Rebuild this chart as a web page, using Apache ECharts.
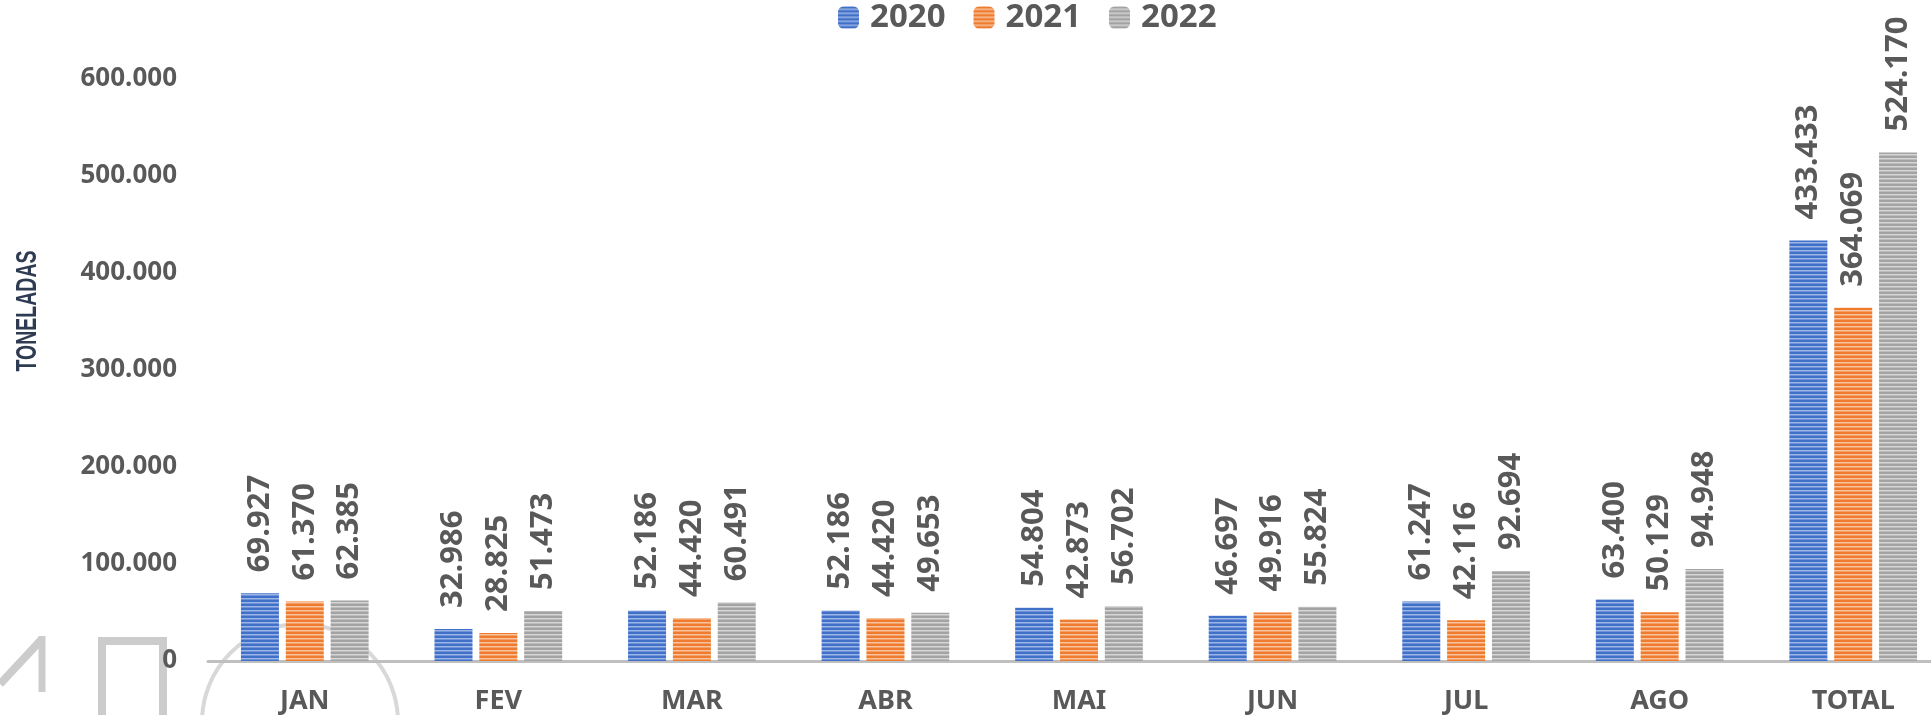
<!DOCTYPE html>
<html><head><meta charset="utf-8">
<script src="https://cdn.jsdelivr.net/npm/echarts@6/dist/echarts.min.js"></script>
<style>html,body{margin:0;padding:0;background:#fff}#c{width:1931px;height:715px}</style>
</head><body><div id="c"></div>
<script>
const categories = ['JAN','FEV','MAR','ABR','MAI','JUN','JUL','AGO','TOTAL'];
const s2020 = [69927, 32986, 52186, 52186, 54804, 46697, 61247, 63400, 433433];
const s2021 = [61370, 28825, 44420, 44420, 42873, 49916, 42116, 50129, 364069];
const s2022 = [62385, 51473, 60491, 49653, 56702, 55824, 92694, 94948, 524170];
const seriesNames = ['2020','2021','2022'];
const yTicks = [0,100000,200000,300000,400000,500000,600000];

function stripe(dark, light){
  const c = document.createElement('canvas'); c.width = 4; c.height = 4;
  const g = c.getContext('2d');
  g.fillStyle = dark; g.fillRect(0,0,4,4);
  g.fillStyle = light; g.fillRect(0,2,4,1.5);
  return {image: c, repeat: 'repeat'};
}
const fills = [stripe('#4170C8','#9DB5E6'), stripe('#EE7B2E','#F8C39E'), stripe('#A3A3A3','#D6D6D6')];
const fmt = v => String(v).replace(/\B(?=(\d{3})+(?!\d))/g, '.');
const FONT = '"Noto Sans", "Open Sans", sans-serif';

const chart = echarts.init(document.getElementById('c'), null, {renderer:'canvas'});
const mk = (name, data, i) => ({
  name, type:'bar', data, barWidth:38, barGap:'18%',
  itemStyle:{color: fills[i]},
  label:{show:true, position:'top', rotate:90, align:'left', verticalAlign:'middle', distance:21,
    formatter: p => fmt(p.value), color:'#595959', fontFamily:FONT, fontWeight:'bold', fontSize:31}
});
chart.setOption({
  animation:false,
  legend:{left:833, top:-4, itemWidth:21, itemHeight:22, itemGap:28,
    textStyle:{fontFamily:FONT, fontWeight:'bold', fontSize:33, color:'#595959', padding:[0,0,0,6]},
    data: seriesNames},
  grid:{left:208, width:1742, top:79, bottom:54, containLabel:false, outerBoundsMode:'none'},
  xAxis:{type:'category', data:categories,
    axisLine:{lineStyle:{color:'#BFBFBF', width:3}}, axisTick:{show:false},
    axisLabel:{margin:27, interval:0, fontFamily:FONT, fontWeight:'bold', fontSize:27, color:'#595959'}},
  yAxis:{type:'value', min:yTicks[0], max:yTicks[yTicks.length-1], interval:100000,
    splitLine:{show:false}, axisLine:{show:false}, axisTick:{show:false},
    axisLabel:{margin:31, formatter: v => fmt(v), fontFamily:FONT, fontWeight:'bold', fontSize:26, color:'#595959'}},
  graphic:[
    {type:'text', x:28, y:311, rotation:Math.PI/2, scaleX:0.65, z:10,
     style:{text:'TONELADAS', fill:'#2E3B52', font:'bold 30px "Liberation Sans", Arial, sans-serif', textAlign:'center', textVerticalAlign:'middle'}},
    {type:'polyline', z:-1, shape:{points:[[0,684],[42,639]]}, style:{stroke:'#CCCCCC', lineWidth:8}},
    {type:'polyline', z:-1, shape:{points:[[42,636],[42,692]]}, style:{stroke:'#CCCCCC', lineWidth:7, fill:null}},
    {type:'polyline', z:-1, shape:{points:[[102,715],[102,641],[163,641],[163,715]]}, style:{stroke:'#CCCCCC', lineWidth:8, fill:null}},
    {type:'circle', z:-1, shape:{cx:300, cy:722, r:98}, style:{stroke:'#D8D8D8', lineWidth:4, fill:null}}
  ],
  series:[mk(seriesNames[0], s2020, 0), mk(seriesNames[1], s2021, 1), mk(seriesNames[2], s2022, 2)]
});
</script></body></html>
